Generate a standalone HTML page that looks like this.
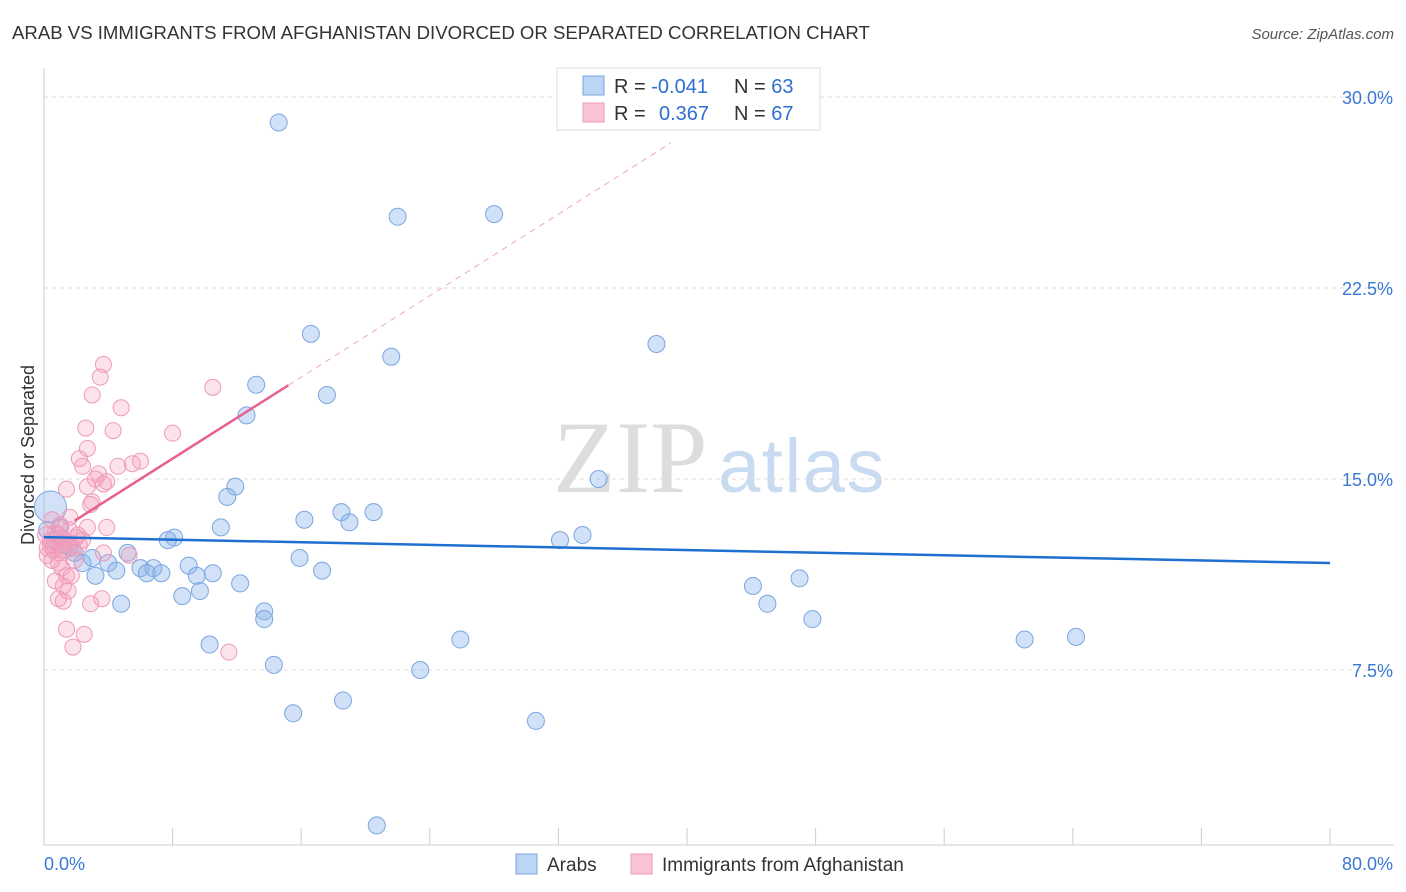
<!DOCTYPE html>
<html><head><meta charset="utf-8"><style>
body{margin:0;background:#fff;font-family:"Liberation Sans",sans-serif;}
#wrap{position:relative;width:1406px;height:892px;overflow:hidden;}
</style></head><body>
<div id="wrap">
<svg id="chart" width="1406" height="892" xmlns="http://www.w3.org/2000/svg">
<text x="12" y="39" font-size="18.6" fill="#333">ARAB VS IMMIGRANTS FROM AFGHANISTAN DIVORCED OR SEPARATED CORRELATION CHART</text>
<text x="1394" y="39" font-size="15" fill="#555" font-style="italic" text-anchor="end">Source: ZipAtlas.com</text>
<text x="34" y="455" font-size="18" fill="#333" transform="rotate(-90 34 455)" text-anchor="middle">Divorced or Separated</text>
<text x="553" y="492" font-size="103" fill="#ddd" font-family="Liberation Serif, serif">ZIP</text>
<text x="718" y="492" font-size="76" fill="#c9dbf1" letter-spacing="1.5">atlas</text>
<g id="grid"></g><g id="axes"></g><g id="pts"></g><g id="lines"></g>
<g>
<rect x="557" y="68" width="263" height="62" fill="#fff" stroke="#ddd"/>
<rect x="583" y="76" width="21" height="19" fill="#bcd4f5" stroke="#7aa6e0"/>
<rect x="583" y="103" width="21" height="19" fill="#f9c5d6" stroke="#ee9ab7"/>
<text x="614" y="93" font-size="20" fill="#333">R = <tspan fill="#2f6fd0">-0.041</tspan><tspan x="734">N = </tspan><tspan fill="#2f6fd0">63</tspan></text>
<text x="614" y="120" font-size="20" fill="#333">R = <tspan x="659" fill="#2f6fd0">0.367</tspan><tspan x="734">N = </tspan><tspan fill="#2f6fd0">67</tspan></text>
</g>
<g>
<rect x="516" y="854" width="21" height="20" fill="#bcd4f5" stroke="#7aa6e0"/>
<text x="547" y="871" font-size="19" fill="#333">Arabs</text>
<rect x="631" y="854" width="21" height="20" fill="#f9c5d6" stroke="#ee9ab7"/>
<text x="662" y="871" font-size="19" fill="#333">Immigrants from Afghanistan</text>
</g>
</svg>
</div>
<script>
const yTicks=[7.5,15,22.5,30];
const yTickLabels=["7.5%","15.0%","22.5%","30.0%"];
const xTicks=[0,8,16,24,32,40,48,56,64,72,80];
const blueX=[14.6,22.0,28.0,16.6,21.6,38.1,13.2,17.6,12.6,11.9,11.4,34.5,16.2,18.5,20.5,19.0,11.0,8.1,7.7,32.1,33.5,5.2,15.9,9.0,4.0,2.4,3.0,6.8,6.0,17.3,6.4,7.3,4.5,3.2,9.5,10.5,12.2,44.1,47.0,8.6,9.7,4.8,13.7,13.7,45.0,47.8,25.9,61.0,64.2,10.3,14.3,23.4,15.5,18.6,30.6,20.7,0.4,1.0,0.7,1.6,1.9,1.2,0.2];
const blueY=[29.0,25.3,25.4,20.7,19.8,20.3,18.7,18.3,17.5,14.7,14.3,15.0,13.4,13.7,13.7,13.3,13.1,12.7,12.6,12.6,12.8,12.1,11.9,11.6,11.7,11.7,11.9,11.5,11.5,11.4,11.3,11.3,11.4,11.2,11.2,11.3,10.9,10.8,11.1,10.4,10.6,10.1,9.8,9.5,10.1,9.5,8.7,8.7,8.8,8.5,7.7,7.5,5.8,6.3,5.5,1.4,13.9,13.1,12.6,12.3,12.1,12.4,13.0];
const pinkX=[3.7,3.5,3.0,4.8,10.5,2.6,4.3,8.0,2.7,2.2,2.4,6.0,5.5,4.6,3.4,3.2,3.7,2.7,3.9,1.4,3.0,2.9,1.6,3.9,2.7,1.0,2.1,2.4,0.7,1.1,1.6,0.4,0.6,0.2,1.8,0.9,3.7,5.3,1.9,0.5,0.9,1.1,1.4,1.7,0.7,1.2,1.5,0.9,3.6,2.9,1.2,1.4,2.5,1.8,11.5,0.5,0.1,0.4,1.0,1.3,0.6,0.9,0.2,2.2,2.0,1.6,1.2];
const pinkY=[19.5,19.0,18.3,17.8,18.6,17.0,16.9,16.8,16.2,15.8,15.5,15.7,15.6,15.5,15.2,15.0,14.8,14.7,14.9,14.6,14.1,14.0,13.5,13.1,13.1,13.2,12.8,12.6,12.9,12.7,12.5,12.4,12.2,12.3,12.3,12.1,12.1,12.0,11.8,11.8,11.7,11.5,11.2,11.2,11.0,10.8,10.6,10.3,10.3,10.1,10.2,9.1,8.9,8.4,8.2,13.4,12.8,12.6,12.4,12.6,12.4,12.8,12.0,12.4,12.7,13.0,12.2];
const blueFit=[12.72,-0.01275];
const pinkFit=[12.6,0.40];
const NS="http://www.w3.org/2000/svg";
const X=v=>44+v/80*1286, Y=v=>861-v/7.5*191;
function mk(t,a,p){const e=document.createElementNS(NS,t);for(const k in a)e.setAttribute(k,a[k]);document.getElementById(p).appendChild(e);return e;}
yTicks.forEach((t,i)=>{
 const g=mk('line',{x1:44,x2:1394,y1:Y(t),y2:Y(t),stroke:'#ddd','stroke-dasharray':'4,4'},'grid');
 
 
 const l=mk('text',{x:1393,y:Y(t)+7,'font-size':18,fill:'#3a78d4','text-anchor':'end'},'axes');
 l.textContent=yTickLabels[i];
 
 
});
mk('line',{x1:44,x2:44,y1:68,y2:845,stroke:'#ccc'},'axes');
mk('line',{x1:44,x2:1394,y1:845,y2:845,stroke:'#ccc'},'axes');
xTicks.forEach(t=>{
 const e=mk('line',{x1:X(t),x2:X(t),y1:828,y2:845,stroke:'#ccc'},'axes');
 
 
});
const x0=mk('text',{x:44,y:870,'font-size':18,fill:'#3a78d4'},'axes');x0.textContent='0.0%';


const x1=mk('text',{x:1393,y:870,'font-size':18,fill:'#3a78d4','text-anchor':'end'},'axes');x1.textContent='80.0%';


blueX.forEach((v,i)=>{
 const c=mk('circle',{cx:X(v),cy:Y(blueY[i]),r:i==56?16:8.5,fill:'rgba(140,180,235,0.4)',stroke:'#7aa6e0','stroke-width':1},'pts');
 
 
});
pinkX.forEach((v,i)=>{
 const c=mk('circle',{cx:X(v),cy:Y(pinkY[i]),r:8,fill:'rgba(245,160,190,0.3)',stroke:'#ee9ab7','stroke-width':1},'pts');
 
 
});
const bl=mk('line',{x1:X(0),y1:Y(blueFit[0]),x2:X(80),y2:Y(blueFit[0]+80*blueFit[1]),stroke:'#1f6fd1','stroke-width':2.5},'lines');


const ps=mk('line',{x1:X(1.9),y1:Y(pinkFit[0]+1.9*pinkFit[1]),x2:X(15.2),y2:Y(pinkFit[0]+15.2*pinkFit[1]),stroke:'#e8608f','stroke-width':2.5},'lines');


const pd=mk('line',{x1:X(15.2),y1:Y(pinkFit[0]+15.2*pinkFit[1]),x2:X(39),y2:Y(pinkFit[0]+39*pinkFit[1]),stroke:'#eeaac0','stroke-width':1,'stroke-dasharray':'6,5'},'lines');


</script>
</body></html>
